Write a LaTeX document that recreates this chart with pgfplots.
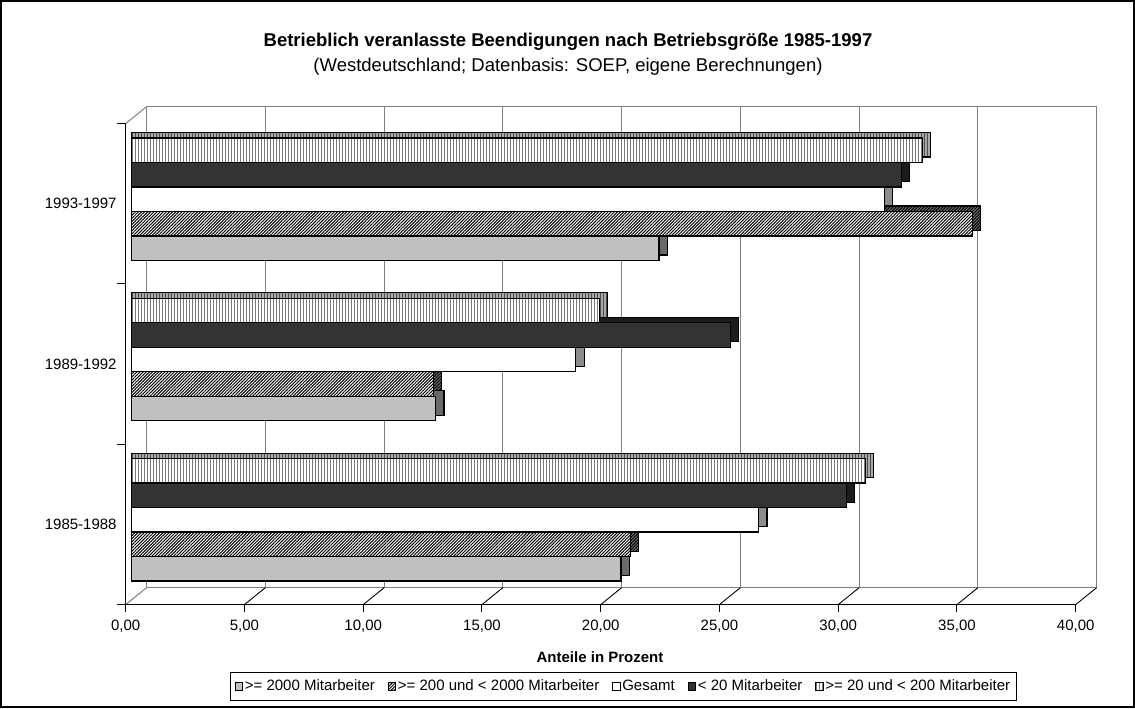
\documentclass[border=0pt]{standalone}
\usepackage{fontspec}
\setmainfont{Liberation Sans}
\usepackage{pgfplots}
\pgfplotsset{compat=1.18}
\usepackage{pgfplotstable}
\usetikzlibrary{patterns.meta}
\definecolor{cGray}{HTML}{C0C0C0}
\definecolor{sGray}{HTML}{6A6A6A}
\definecolor{sHatch}{HTML}{707070}
\definecolor{sWhite}{HTML}{8C8C8C}
\definecolor{cDark}{HTML}{333333}
\definecolor{sDark}{HTML}{1C1C1C}
\definecolor{sVert}{HTML}{A8A8A8}
\definecolor{gridc}{HTML}{808080}
\definecolor{vline}{HTML}{7A7A7A}

% cat: 0 = 1985-1988, 1 = 1989-1992, 2 = 1993-1997
% g: >= 2000, h: >= 200 und < 2000, ges: Gesamt, d: < 20, v: >= 20 und < 200
\pgfplotstableread{
cat g h ges d v
0 20.6 21.0 26.4 30.1 30.9
1 12.8 12.7 18.7 25.2 19.7
2 22.2 35.4 31.7 32.4 33.3
}\data

\pgfplotsset{
  mybar/.style={xbar, bar width=12.25pt, draw=black, line width=0.6pt},
  sidebar/.style={xbar, bar width=12.25pt, draw=black, line width=0.6pt, forget plot},
}

\begin{document}
\begin{tikzpicture}[x=1pt,y=1pt]
\useasboundingbox (0,0) rectangle (567.5,354);
\draw[line width=0.9pt] (0.45,0.45) rectangle (567.05,353.55);
\node[font=\bfseries\fontsize{9.25}{11}\selectfont] at (284,333) {Betrieblich veranlasste Beendigungen nach Betriebsgröße 1985-1997};
\node[font=\fontsize{9.25}{11}\selectfont] at (284,320.5) {(Westdeutschland; Datenbasis: SOEP, eigene Berechnungen)};
\node[font=\bfseries\fontsize{7.5}{9}\selectfont] at (300,25.6) {Anteile in Prozent};
\begin{axis}[
  at={(65.85pt,54pt)}, anchor=south west,
  scale only axis, width=475pt, height=240.5pt,
  xmin=0, xmax=40, ymin=-0.5, ymax=2.5,
  clip=false,
  axis line style={draw=none},
  major tick length=0pt,
  xtick={0,5,10,15,20,25,30,35,40},
  xticklabels={{0,00},{5,00},{10,00},{15,00},{20,00},{25,00},{30,00},{35,00},{40,00}},
  ytick={0,1,2},
  yticklabels={1985-1988,1989-1992,1993-1997},
  tick label style={font=\fontsize{7.5}{9}\selectfont, inner sep=0pt},
  xticklabel style={anchor=north, xshift=-3pt, yshift=-10pt},
  yticklabel style={anchor=east, xshift=-7.35pt, yshift=-2.3pt},
  legend columns=5,
  legend cell align=left,
  legend style={at={(0.5177,-0.1798)}, anchor=center, draw=black, line width=0.5pt,
    font=\fontsize{7.5}{9}\selectfont, inner xsep=2pt, inner ysep=2.5pt,
    nodes={inner sep=1pt},
    /tikz/every even column/.append style={column sep=5.5pt}},
  legend image code/.code={\draw[#1,line width=0.4pt] (0pt,-1.8pt) rectangle (3.6pt,1.8pt);},
]
% back wall
\draw[gridc, line width=0.5pt] ([shift={(7.5pt,6.2pt)}]axis cs:0,-0.5) rectangle ([shift={(7.5pt,6.2pt)}]axis cs:40,2.5);
\pgfplotsinvokeforeach{5,10,15,20,25,30,35}{
  \draw[gridc, line width=0.5pt] ([shift={(7.5pt,6.2pt)}]axis cs:#1,-0.5) -- ([shift={(7.5pt,6.2pt)}]axis cs:#1,2.5);
}
% floor diagonals and front ticks
\pgfplotsinvokeforeach{5,10,15,20,25,30,35,40}{
  \draw[black, line width=0.45pt] ([shift={(-3pt,-2.3pt)}]axis cs:#1,-0.5) -- ([shift={(7.5pt,6.2pt)}]axis cs:#1,-0.5);
}
\pgfplotsinvokeforeach{0,5,10,15,20,25,30,35,40}{
  \draw[black, line width=0.5pt] ([shift={(-3pt,-2.3pt)}]axis cs:#1,-0.5) -- ([shift={(-3pt,-5.8pt)}]axis cs:#1,-0.5);
}
\draw[gridc, line width=0.5pt] ([shift={(-3pt,-2.3pt)}]axis cs:0,-0.5) -- ([shift={(7.5pt,6.2pt)}]axis cs:0,-0.5);
\draw[gridc, line width=0.5pt] ([shift={(-3pt,-2.3pt)}]axis cs:0,2.5) -- ([shift={(7.5pt,6.2pt)}]axis cs:0,2.5);
% front axes
\draw[black, line width=0.6pt] ([shift={(-3pt,-2.3pt)}]axis cs:0,2.5) -- ([shift={(-3pt,-2.3pt)}]axis cs:0,-0.5) -- ([shift={(-3pt,-2.3pt)}]axis cs:40,-0.5);
\pgfplotsinvokeforeach{-0.5,0.5,1.5,2.5}{
  \draw[black, line width=0.5pt] ([shift={(-3pt,-2.3pt)}]axis cs:0,#1) -- ([shift={(-7.5pt,-2.3pt)}]axis cs:0,#1);
}

% >= 2000 Mitarbeiter
\addplot[sidebar, bar shift=-21.8pt, fill=sGray] table[x expr=\thisrow{g}+0.35, y=cat]{\data};
\addplot[mybar, bar shift=-24.5pt, fill=cGray] table[x=g, y=cat]{\data};
\addlegendentry{>= 2000 Mitarbeiter}
% >= 200 und < 2000
\addplot[sidebar, bar shift=-9.55pt, fill=sHatch, postaction={pattern={Lines[angle=45,distance=1.1pt,line width=0.5pt]}, pattern color=black}] table[x expr=\thisrow{h}+0.35, y=cat]{\data};
\addplot[mybar, bar shift=-12.25pt, fill=white, postaction={pattern={Lines[angle=45,distance=1.1pt,line width=0.5pt]}, pattern color=black}] table[x=h, y=cat]{\data};
\addlegendentry{>= 200 und < 2000 Mitarbeiter}
% Gesamt
\addplot[sidebar, bar shift=2.7pt, fill=sWhite] table[x expr=\thisrow{ges}+0.35, y=cat]{\data};
\addplot[mybar, bar shift=0pt, fill=white] table[x=ges, y=cat]{\data};
\addlegendentry{Gesamt}
% < 20
\addplot[sidebar, bar shift=14.95pt, fill=sDark] table[x expr=\thisrow{d}+0.35, y=cat]{\data};
\addplot[mybar, bar shift=12.25pt, fill=cDark] table[x=d, y=cat]{\data};
\addlegendentry{< 20 Mitarbeiter}
% >= 20 und < 200
\addplot[sidebar, bar shift=27.2pt, fill=sVert, postaction={pattern={Lines[angle=90,distance=1.5pt,line width=0.5pt]}, pattern color=black!70}] table[x expr=\thisrow{v}+0.35, y=cat]{\data};
\addplot[mybar, bar shift=24.5pt, fill=white, postaction={pattern={Lines[angle=90,distance=1.5pt,line width=0.5pt]}, pattern color=vline}] table[x=v, y=cat]{\data};
\addlegendentry{>= 20 und < 200 Mitarbeiter}
\end{axis}
\end{tikzpicture}
\end{document}
